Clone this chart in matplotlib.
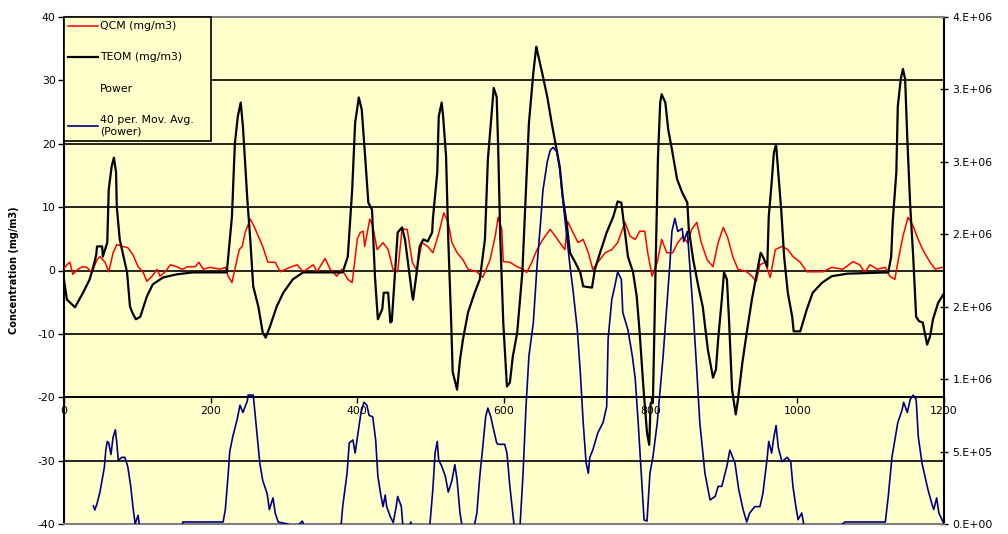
import math
import numpy as np
import matplotlib
matplotlib.use("Agg")
import matplotlib.pyplot as plt
from matplotlib.lines import Line2D
from matplotlib.ticker import FuncFormatter

plt.rcParams['font.family'] = ['DejaVu Sans']
plt.rcParams['axes.unicode_minus'] = False

# ---------------- data ----------------
# TEOM concentration (mg/m3), sample index vs value
teom_x = [0, 4, 15, 26, 35, 40, 44, 45, 52, 53, 59, 61, 65, 68, 71, 72, 76, 80, 86, 90,
          93, 98, 104, 113, 121, 135, 154, 176, 222, 229, 233, 237, 241, 244, 250, 254,
          258, 265, 271, 275, 281, 290, 299, 312, 326, 380, 387, 393, 397, 402, 406, 410,
          415, 420, 424, 428, 434, 436, 442, 445, 447, 451, 455, 461, 465, 469, 475, 476,
          481, 485, 490, 496, 502, 503, 509, 511, 515, 517, 521, 524, 528, 530, 536, 540,
          544, 551, 560, 567, 574, 578, 584, 586, 590, 592, 595, 599, 604, 608, 612, 618,
          625, 629, 634, 640, 644, 646, 652, 659, 665, 670, 676, 680, 686, 690, 697, 704,
          708, 720, 724, 731, 740, 749, 755, 760, 764, 769, 776, 781, 785, 790, 795, 798,
          800, 803, 805, 807, 810, 813, 815, 820, 824, 829, 836, 843, 850, 852, 858, 865,
          871, 878, 885, 889, 892, 897, 900, 904, 907, 911, 916, 919, 925, 931, 938, 945,
          950, 953, 959, 961, 965, 968, 971, 974, 978, 982, 987, 993, 995, 1004, 1013,
          1021, 1034, 1047, 1068, 1124, 1128, 1130, 1135, 1137, 1141, 1144, 1147, 1150,
          1154, 1158, 1162, 1166, 1171, 1177, 1181, 1185, 1192, 1199]
teom_y = [-1.5, -4.6, -5.8, -3.5, -1.4, 0.6, 2.5, 3.8, 3.8, 2.2, 4.4, 12.8, 16.4, 17.8,
          15.5, 10.0, 4.9, 2.8, -0.3, -5.7, -6.6, -7.7, -7.3, -4.1, -2.2, -1.1, -0.6, -0.3,
          -0.3, 8.5, 20.0, 24.3, 26.5, 22.7, 11.2, 4.9, -2.5, -5.7, -9.8, -10.6, -8.8,
          -5.7, -3.5, -1.4, -0.3, -0.3, 2.2, 12.8, 23.3, 27.3, 25.4, 19.0, 10.7, 9.6, -0.9,
          -7.7, -6.1, -3.5, -3.5, -8.2, -8.0, -1.0, 6.0, 6.8, 4.9, 1.3, -4.1, -4.6, -0.3,
          3.8, 4.9, 4.6, 6.0, 8.1, 15.5, 24.3, 26.5, 24.3, 18.0, 4.9, -8.2, -16.0, -18.8,
          -14.1, -10.9, -6.6, -3.5, -1.4, 4.9, 17.5, 25.9, 28.8, 27.4, 19.6, 4.9, -8.2,
          -18.3, -17.7, -13.6, -9.8, -0.3, 10.1, 23.3, 31.2, 35.3, 34.3, 31.2, 27.4, 23.3,
          20.2, 16.4, 11.7, 6.9, 2.8, 1.3, -0.3, -2.5, -2.7, 0.2, 2.8, 6.0, 8.5, 10.9,
          10.7, 6.9, 2.2, -0.3, -4.1, -9.8, -18.3, -25.6, -27.5, -20.9, -20.9, -9.8, 2.2,
          18.0, 26.5, 27.8, 26.5, 22.2, 19.1, 14.4, 12.3, 10.7, 6.5, 1.7, -2.5, -5.7,
          -12.5, -16.9, -15.6, -10.9, -4.6, -0.3, -1.4, -8.2, -18.8, -22.7, -20.4, -14.6,
          -9.8, -4.6, -0.3, 2.8, 2.2, 0.6, 8.5, 13.9, 18.6, 19.9, 15.5, 9.6, 2.2, -3.5,
          -7.3, -9.6, -9.6, -6.1, -3.5, -1.9, -0.9, -0.5, -0.3, 2.2, 7.6, 15.5, 25.9,
          30.2, 31.8, 30.2, 20.7, 10.1, 2.2, -7.3, -8.0, -8.2, -11.7, -10.4, -7.7, -5.1,
          -3.8]

# QCM concentration (mg/m3)
qcm_x = [0, 4, 8, 12, 19, 25, 31, 38, 45, 49, 56, 61, 67, 72, 80, 87, 94, 101, 108, 113,
         120, 127, 131, 138, 145, 154, 161, 169, 179, 184, 190, 199, 213, 220, 224, 229,
         233, 239, 243, 247, 254, 259, 265, 271, 278, 288, 295, 308, 318, 326, 340, 345,
         356, 363, 372, 379, 387, 393, 400, 404, 408, 410, 417, 421, 427, 435, 442, 449,
         455, 461, 468, 475, 481, 488, 496, 503, 510, 518, 524, 529, 536, 544, 551, 563,
         571, 581, 588, 592, 597, 599, 608, 618, 626, 631, 638, 645, 653, 663, 670, 676,
         683, 687, 694, 701, 708, 715, 721, 728, 738, 747, 755, 765, 772, 779, 785, 792,
         796, 802, 809, 815, 822, 830, 837, 844, 850, 856, 863, 869, 877, 885, 892, 899,
         905, 912, 919, 931, 938, 944, 949, 956, 963, 970, 979, 987, 994, 1004, 1013,
         1035, 1047, 1062, 1076, 1085, 1092, 1099, 1109, 1120, 1126, 1133, 1137, 1144,
         1151, 1158, 1163, 1171, 1181, 1188, 1197, 1200]
qcm_y = [0.3, 0.9, 1.3, -0.6, 0.2, 0.6, 0.5, -0.3, 1.7, 2.2, 1.3, -0.2, 2.8, 4.1, 3.8,
         3.6, 2.5, 0.6, -0.3, -1.7, -0.9, 0.2, -0.9, -0.2, 0.9, 0.6, 0.2, 0.6, 0.6, 1.3,
         0.2, 0.5, 0.2, 0.5, -0.9, -1.9, 0.2, 3.3, 3.8, 6.0, 8.1, 7.0, 5.4, 3.8, 1.3, 1.3,
         -0.2, 0.5, 0.9, -0.2, 0.9, -0.2, 1.9, 0.2, -0.9, 0.2, -1.4, -1.9, 5.0, 6.0, 6.2,
         3.8, 8.1, 7.0, 3.3, 4.4, 3.3, 0.0, -0.2, 6.5, 6.5, 1.3, 0.0, 4.4, 3.8, 2.8, 5.4,
         9.1, 7.5, 4.4, 2.8, 1.7, 0.2, -0.2, -1.1, 1.7, 5.4, 8.4, 6.5, 1.4, 1.3, 0.6, 0.2,
         -0.3, 1.3, 3.3, 4.9, 6.5, 5.4, 4.4, 3.3, 7.7, 6.0, 4.4, 4.9, 2.8, 0.2, 1.3, 2.8,
         3.3, 4.4, 7.6, 5.4, 4.9, 6.2, 6.2, 2.8, -0.9, 1.3, 4.9, 2.8, 2.8, 4.4, 5.4, 4.4,
         6.5, 7.6, 4.4, 1.7, 0.6, 4.4, 6.8, 5.2, 2.2, 0.2, -0.2, -0.9, -1.7, 0.9, 1.3,
         -1.1, 3.3, 3.8, 3.3, 2.2, 1.3, -0.2, -0.2, 0.5, 0.2, 1.4, 0.9, -0.3, 0.9, 0.2,
         0.5, -0.9, -1.4, 1.3, 5.4, 8.4, 7.0, 5.4, 3.3, 1.3, 0.2, 0.5, 0.4]

# 40-period moving average of power (secondary axis)
power_avg_x = [40, 42, 45, 49, 52, 55, 57, 59, 61, 64, 67, 70, 72, 74, 79, 83, 87, 91, 94,
               97, 101, 104, 133, 160, 162, 217, 220, 224, 226, 230, 236, 240, 244, 250,
               251, 258, 260, 263, 267, 271, 277, 280, 285, 288, 292, 305, 315, 325, 329,
               349, 378, 380, 386, 389, 394, 397, 401, 405, 409, 413, 416, 421, 425, 428,
               432, 435, 438, 440, 445, 449, 453, 455, 460, 462, 468, 473, 476, 485, 499,
               503, 506, 509, 511, 515, 520, 524, 529, 533, 536, 540, 543, 551, 560, 563,
               567, 571, 575, 578, 582, 585, 590, 592, 601, 604, 608, 612, 614, 618, 622,
               626, 630, 634, 640, 645, 650, 653, 659, 663, 667, 672, 676, 680, 686, 690,
               694, 700, 704, 708, 712, 715, 717, 721, 728, 735, 740, 742, 747, 751, 755,
               760, 762, 769, 775, 779, 783, 788, 791, 795, 799, 803, 809, 813, 817, 822,
               826, 829, 833, 837, 843, 845, 850, 854, 858, 863, 867, 874, 881, 888, 892,
               897, 904, 908, 915, 920, 926, 931, 935, 942, 949, 953, 959, 961, 965, 968,
               971, 974, 979, 986, 991, 994, 998, 1001, 1006, 1009, 1038, 1065, 1120,
               1124, 1129, 1133, 1137, 1143, 1145, 1150, 1154, 1158, 1162, 1165, 1170,
               1174, 1178, 1184, 1186, 1190, 1193, 1200]
power_avg_y = [1.25e5, 0.97e5, 1.4e5, 2.2e5, 3.05e5, 3.9e5, 5.1e5, 5.7e5, 5.6e5, 4.8e5,
               6.0e5, 6.5e5, 5.6e5, 4.4e5, 4.6e5, 4.6e5, 3.95e5, 2.6e5, 1.2e5, 0.0, 0.6e5,
               -0.5e5, -3.0e5, -0.5e5, 1.4e4, 1.4e4, 1.0e5, 3.5e5, 5.0e5, 6.0e5, 7.2e5,
               8.2e5, 7.7e5, 8.5e5, 8.9e5, 8.9e5, 7.9e5, 6.3e5, 4.2e5, 3.0e5, 2.1e5, 1.0e5,
               1.8e5, 0.76e5, 1.4e4, 0.0, -0.3e5, 2.0e4, -0.3e5, -1.0e5, 0.0, 1.2e5, 3.5e5,
               5.6e5, 5.8e5, 4.9e5, 6.3e5, 7.7e5, 8.4e5, 8.2e5, 7.5e5, 7.4e5, 5.8e5, 3.3e5,
               2.0e5, 1.2e5, 2.0e5, 1.2e5, 0.5e5, 0.1e5, 1.2e5, 1.9e5, 1.2e5, -0.1e5,
               -0.5e5, 1.4e4, -0.5e5, -1.0e5, 0.0, 2.4e5, 4.9e5, 5.7e5, 4.4e5, 4.0e5, 3.3e5,
               2.2e5, 3.0e5, 4.1e5, 3.05e5, 0.76e5, -0.2e5, -1.0e5, 0.0, 0.76e5, 3.3e5,
               5.3e5, 7.4e5, 8.0e5, 7.4e5, 6.7e5, 5.6e5, 5.5e5, 5.5e5, 4.9e5, 2.6e5, 0.76e5,
               -0.2e5, -1.0e5, 0.0, 3.5e5, 8.1e5, 1.16e6, 1.39e6, 1.78e6, 2.09e6, 2.30e6,
               2.50e6, 2.58e6, 2.60e6, 2.57e6, 2.45e6, 2.25e6, 1.97e6, 1.78e6, 1.62e6,
               1.34e6, 1.05e6, 7.0e5, 4.2e5, 3.5e5, 4.6e5, 5.1e5, 6.3e5, 7.0e5, 8.1e5,
               1.28e6, 1.55e6, 1.64e6, 1.74e6, 1.69e6, 1.46e6, 1.34e6, 1.16e6, 1.0e6,
               7.0e5, 2.8e5, 2.8e4, 2.0e4, 3.5e5, 4.6e5, 7.0e5, 9.3e5, 1.16e6, 1.50e6,
               1.78e6, 2.02e6, 2.11e6, 2.02e6, 2.04e6, 1.95e6, 2.02e6, 1.74e6, 1.46e6,
               1.05e6, 7.0e5, 3.5e5, 1.66e5, 1.9e5, 2.6e5, 2.6e5, 4.0e5, 5.1e5, 4.2e5,
               2.4e5, 1.0e5, 1.4e4, 0.76e5, 1.2e5, 1.2e5, 2.1e5, 4.6e5, 5.7e5, 4.9e5,
               6.0e5, 6.8e5, 5.3e5, 4.3e5, 4.6e5, 4.3e5, 2.6e5, 1.2e5, 0.3e5, 0.76e5,
               -0.1e5, -1.0e5, 1.4e4, 1.4e4, 1.9e5, 4.6e5, 5.8e5, 7.0e5, 7.9e5, 8.4e5,
               7.7e5, 8.6e5, 8.9e5, 8.6e5, 6.0e5, 4.2e5, 3.3e5, 2.4e5, 1.3e5, 1.0e5, 1.8e5,
               0.76e5, 0.0]

x_ticks = [0, 200, 400, 600, 800, 1000, 1200]
conc_ticks = [-40, -30, -20, -10, 0, 10, 20, 30, 40]
power_ticks = [0, 5e5, 1.0e6, 1.5e6, 2.0e6, 2.5e6, 3.0e6, 3.5e6]

labels = ["QCM (mg/m3)", "TEOM (mg/m3)", "Power", "40 per. Mov. Avg.\n(Power)"]

# ---------------- figure ----------------
BG = "#FFFFCC"
GRAY = "#808080"
NAVY = "#000080"
FS = 7.8

fig = plt.figure(figsize=(10.08, 5.34), dpi=100)
ax = fig.add_axes([64 / 1008, 10 / 534, 880 / 1008, 507 / 534])
ax.set_facecolor(BG)

ax.plot(qcm_x, qcm_y, color="#FF0000", lw=1.1, zorder=3)
ax.plot(teom_x, teom_y, color="black", lw=1.6, zorder=4)

ax.set_xlim(0, 1200)
ax.set_ylim(-40, 40)
ax.set_xticks(x_ticks)
ax.set_yticks(conc_ticks)
ax.set_axisbelow(True)
ax.yaxis.grid(True, color="black", lw=1.2)
for gl, v in zip(ax.get_ygridlines(), conc_ticks):
    if abs(v) == 40:
        gl.set_visible(False)

# category axis crosses the value axis at -20
ax.spines["bottom"].set_position(("data", -20))
ax.spines["bottom"].set_color("black")
ax.spines["bottom"].set_linewidth(1.2)
ax.spines["left"].set_color("black")
ax.spines["left"].set_linewidth(1.5)
ax.spines["top"].set_visible(False)
ax.spines["right"].set_visible(False)

ax.tick_params(axis="x", direction="out", length=4, width=1, pad=2.5,
               labelsize=FS, colors="black")
ax.tick_params(axis="y", direction="out", length=4.5, width=1, pad=1.5,
               labelsize=FS, colors="black")
ax.set_ylabel("Concentration (mg/m3)", fontsize=7, fontweight="bold")
ax.yaxis.set_label_coords(-0.051, 0.5)

# secondary axis for power
ax2 = ax.twinx()
ax2.plot(power_avg_x, power_avg_y, color=NAVY, lw=1.2, zorder=3)
ax2.set_ylim(0, 3.5e6)
ax2.set_yticks(power_ticks)


def sci_label(v, pos=None):
    if v == 0:
        return "0.E+00"
    e = int(math.floor(math.log10(abs(v))))
    m = int(math.floor(v / 10 ** e + 0.5))
    if m == 10:
        m, e = 1, e + 1
    return f"{m}.E+{e:02d}"


ax2.yaxis.set_major_formatter(FuncFormatter(sci_label))
ax2.tick_params(axis="y", direction="inout", length=6, width=1, pad=3,
                labelsize=FS, colors="black")
ax2.spines["left"].set_visible(False)
ax2.spines["right"].set_color("black")
ax2.spines["right"].set_linewidth(1.5)
ax2.spines["top"].set_color(GRAY)
ax2.spines["top"].set_linewidth(1.5)
ax2.spines["bottom"].set_color(GRAY)
ax2.spines["bottom"].set_linewidth(1.5)

handles = [
    Line2D([], [], color="#FF0000", lw=1.1),
    Line2D([], [], color="black", lw=1.6),
    Line2D([], [], color="none", lw=0),
    Line2D([], [], color=NAVY, lw=1.2),
]
leg = ax2.legend(handles, labels, loc="upper left",
                 bbox_to_anchor=(0, 0.75, 147 / 880, 0.25), mode="expand",
                 borderaxespad=0, borderpad=0.4, labelspacing=1.95,
                 handlelength=2.75, handletextpad=0.15, fontsize=FS,
                 fancybox=False, shadow=False, framealpha=1,
                 facecolor=BG, edgecolor="black")
leg.get_frame().set_linewidth(1.2)
leg.set_zorder(10)

fig.savefig("out.png", dpi=100, facecolor="white")
